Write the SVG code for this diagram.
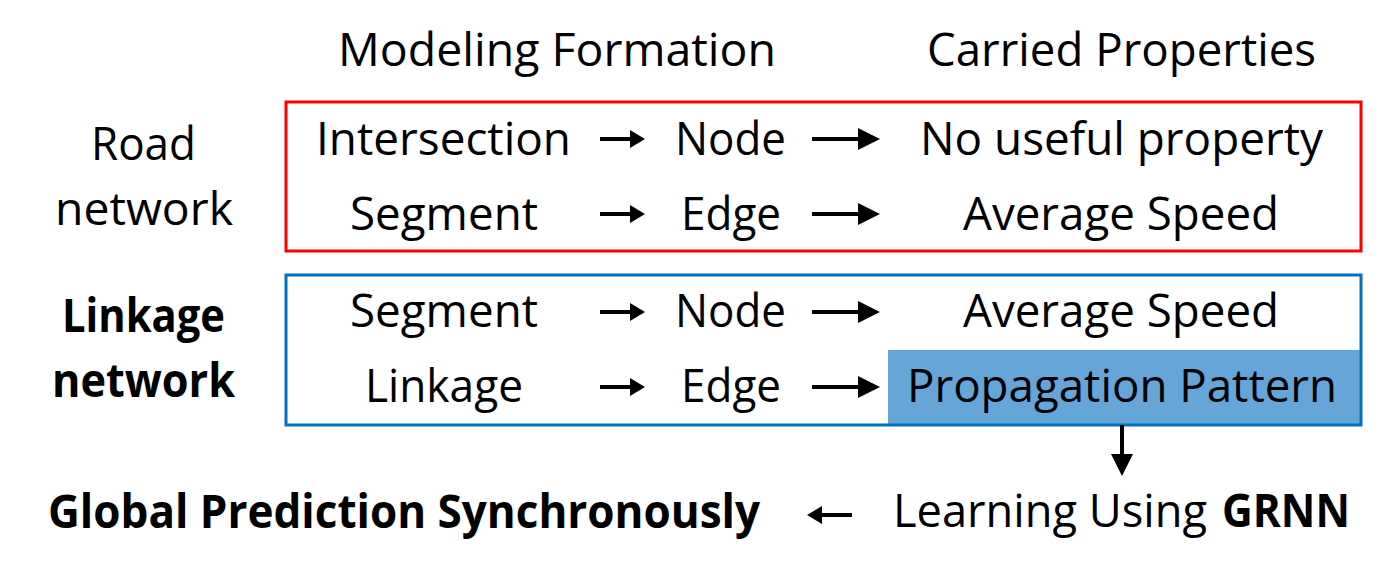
<svg xmlns="http://www.w3.org/2000/svg" width="1396" height="572" viewBox="0 0 1396 572">
<style>
text{font-family:"Open Sans","Noto Sans","Liberation Sans",sans-serif;font-size:46px;fill:#000}
.b{font-weight:bold}
.conn{stroke:#000;stroke-width:4;fill:none}
</style>
<defs>
<marker id="hs" markerUnits="userSpaceOnUse" markerWidth="16" markerHeight="20" refX="0" refY="9" orient="auto"><path d="M0,0 L15,9 L0,18 z" fill="#000"/></marker>
<marker id="hl" markerUnits="userSpaceOnUse" markerWidth="24" markerHeight="24" refX="0" refY="11" orient="auto"><path d="M0,0 L22,11 L0,22 z" fill="#000"/></marker>
<marker id="hd" markerUnits="userSpaceOnUse" markerWidth="24" markerHeight="24" refX="0" refY="11" orient="auto"><path d="M0,0 L22,11 L0,22 z" fill="#000"/></marker>
</defs>
<rect width="1396" height="572" fill="#fff"/>
<g id="headers">
<text x="338" y="66" textLength="438" lengthAdjust="spacingAndGlyphs">Modeling Formation</text>
<text x="927" y="66" textLength="389" lengthAdjust="spacingAndGlyphs">Carried Properties</text>
</g>
<g id="road-label">
<text x="91" y="160" textLength="105" lengthAdjust="spacingAndGlyphs">Road</text>
<text x="55" y="225" textLength="178" lengthAdjust="spacingAndGlyphs">network</text>
</g>
<g id="linkage-label">
<text class="b" x="62" y="332" textLength="163" lengthAdjust="spacingAndGlyphs">Linkage</text>
<text class="b" x="52" y="397" textLength="183" lengthAdjust="spacingAndGlyphs">network</text>
</g>
<g id="road-network">
<rect x="286" y="102" width="1075" height="149" fill="none" stroke="#FF0000" stroke-width="3"/>
<text x="316" y="155" textLength="255" lengthAdjust="spacingAndGlyphs">Intersection</text>
<text x="675" y="155" textLength="111" lengthAdjust="spacingAndGlyphs">Node</text>
<text x="920" y="155" textLength="403" lengthAdjust="spacingAndGlyphs">No useful property</text>
<text x="350" y="230" textLength="188" lengthAdjust="spacingAndGlyphs">Segment</text>
<text x="681" y="230" textLength="100" lengthAdjust="spacingAndGlyphs">Edge</text>
<text x="963" y="230" textLength="316" lengthAdjust="spacingAndGlyphs">Average Speed</text>
</g>
<g id="linkage-network">
<rect x="888" y="350" width="473" height="75" fill="#65A5D8"/>
<rect x="286" y="275" width="1075" height="150" fill="none" stroke="#0070C0" stroke-width="3"/>
<text x="350" y="327" textLength="188" lengthAdjust="spacingAndGlyphs">Segment</text>
<text x="675" y="327" textLength="111" lengthAdjust="spacingAndGlyphs">Node</text>
<text x="963" y="327" textLength="316" lengthAdjust="spacingAndGlyphs">Average Speed</text>
<text x="365" y="402" textLength="158" lengthAdjust="spacingAndGlyphs">Linkage</text>
<text x="681" y="402" textLength="100" lengthAdjust="spacingAndGlyphs">Edge</text>
<text x="907" y="402" textLength="430" lengthAdjust="spacingAndGlyphs">Propagation Pattern</text>
</g>
<g id="learning">
<text x="893" y="527" textLength="314" lengthAdjust="spacingAndGlyphs">Learning Using</text>
<text class="b" x="1222" y="527" textLength="128" lengthAdjust="spacingAndGlyphs">GRNN</text>
</g>
<g id="global">
<text class="b" x="48" y="528" textLength="712" lengthAdjust="spacingAndGlyphs">Global Prediction Synchronously</text>
</g>
<g id="connectors">
<line class="conn" x1="600" y1="139" x2="630" y2="139" marker-end="url(#hs)"/>
<line class="conn" x1="600" y1="214" x2="630" y2="214" marker-end="url(#hs)"/>
<line class="conn" x1="600" y1="312" x2="630" y2="312" marker-end="url(#hs)"/>
<line class="conn" x1="600" y1="387" x2="630" y2="387" marker-end="url(#hs)"/>
<line class="conn" x1="812" y1="139" x2="858" y2="139" marker-end="url(#hl)"/>
<line class="conn" x1="812" y1="214" x2="858" y2="214" marker-end="url(#hl)"/>
<line class="conn" x1="812" y1="312" x2="858" y2="312" marker-end="url(#hl)"/>
<line class="conn" x1="812" y1="387" x2="858" y2="387" marker-end="url(#hl)"/>
<line class="conn" stroke-width="3" x1="1122" y1="425" x2="1122" y2="454" marker-end="url(#hd)"/>
<line class="conn" stroke-width="3" x1="852" y1="515" x2="822" y2="515" marker-end="url(#hs)"/>
</g>
</svg>
